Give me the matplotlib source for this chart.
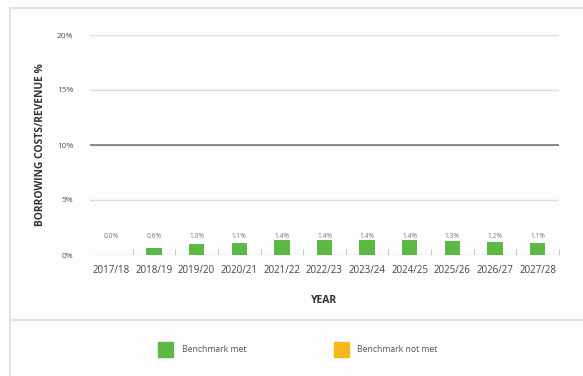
import numpy as np
import matplotlib.pyplot as plt
from matplotlib.patches import Rectangle

plt.rcParams['font.family'] = ['Open Sans', 'DejaVu Sans']

years = ['2017/18', '2018/19', '2019/20', '2020/21', '2021/22', '2022/23',
         '2023/24', '2024/25', '2025/26', '2026/27', '2027/28']
values = [0.0, 0.6, 1.0, 1.1, 1.4, 1.4, 1.4, 1.4, 1.3, 1.2, 1.1]
benchmark = 10
yticks = [0, 5, 10, 15, 20]

green = '#5cb946'
orange = '#f8b81c'
grey_text = '#555555'

fig = plt.figure(figsize=(5.83, 3.76), dpi=100)
fig.patch.set_facecolor('#fdfdfd')

# outer frame and divider
fig.patches.append(Rectangle((10 / 583, -0.01), 1.0, 1 - 8 / 376 + 0.01,
                             transform=fig.transFigure, fill=False,
                             edgecolor='#dddddd', lw=1.2))
fig.add_artist(plt.Line2D([10 / 583, 1], [1 - 320 / 376] * 2,
                          transform=fig.transFigure, color='#dddddd', lw=1.2))

ax = fig.add_axes([90 / 583, 1 - 255 / 376, 469 / 583, 220 / 376])
ax.set_facecolor('#fdfdfd')
x = np.arange(len(years))
ax.bar(x, values, width=0.36, color=green, zorder=3)

for xi, v in zip(x, values):
    ax.text(xi, 1.65, f'{v:.1f}%', ha='center', va='center', fontsize=4.8,
            color='#777777')

for t in yticks:
    ax.axhline(t, color='#dcdcdc', lw=1, zorder=1)
ax.axhline(benchmark, color='#777777', lw=1.2, zorder=2)

ax.set_xlim(-0.5, len(years) - 0.5)
ax.set_ylim(0, 20)
ax.set_yticks(yticks)
ax.set_yticklabels([f'{t}%' for t in yticks], fontsize=6, color=grey_text)
ax.set_xticks(x)
ax.set_xticklabels(years, fontsize=7, color='#444444')
ax.tick_params(axis='x', length=0, pad=7)
ax.tick_params(axis='y', length=0, pad=12)
ax.set_xticks(np.arange(0.5, len(years) + 0.5), minor=True)
ax.tick_params(axis='x', which='minor', direction='in', length=4,
               color='#bbbbbb')
for s in ax.spines.values():
    s.set_visible(False)

ax.set_xlabel('YEAR', fontsize=7.5, fontweight='bold', color='#333333',
              labelpad=14)
ax.set_ylabel('BORROWING COSTS/REVENUE %', fontsize=7.4, fontweight='bold',
              color='#333333', labelpad=8)

# legend
ly = 1 - 349 / 376
sq = 15
fig.patches.append(Rectangle((158 / 583, ly - sq / 2 / 376), sq / 583, sq / 376,
                             transform=fig.transFigure, color=green))
fig.text(182 / 583, ly, 'Benchmark met', fontsize=6.2, color=grey_text,
         va='center')
fig.patches.append(Rectangle((334 / 583, ly - sq / 2 / 376), sq / 583, sq / 376,
                             transform=fig.transFigure, color=orange))
fig.text(357 / 583, ly, 'Benchmark not met', fontsize=6.2, color=grey_text,
         va='center')

fig.savefig('out.png', dpi=100, facecolor=fig.get_facecolor())
